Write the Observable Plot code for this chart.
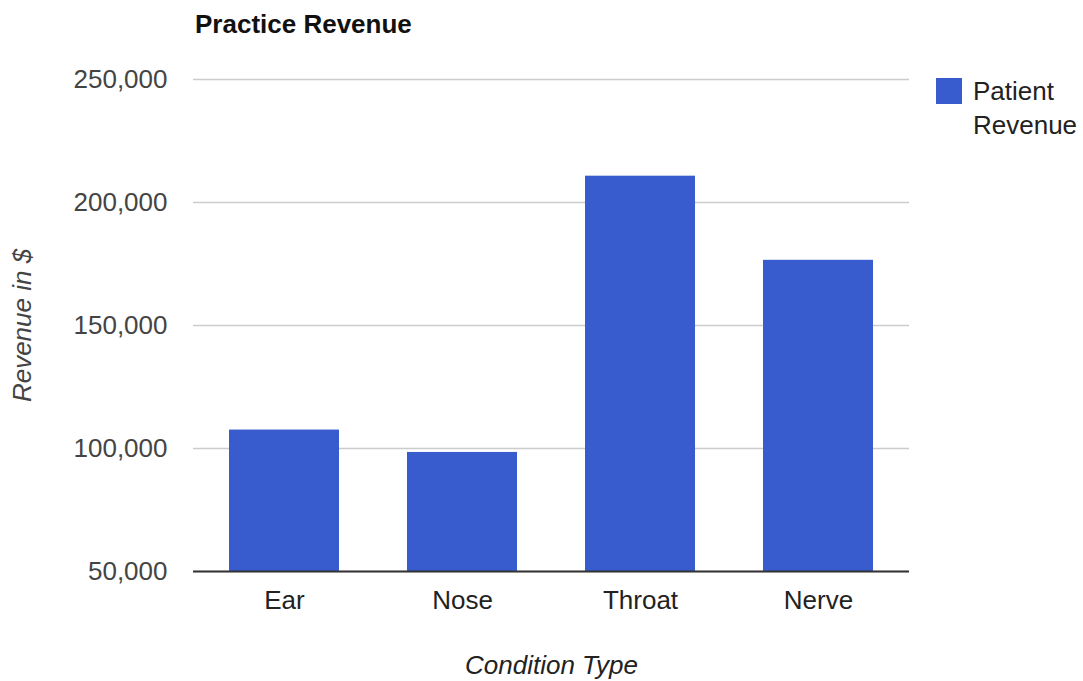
<!DOCTYPE html>
<html>
<head>
<meta charset="utf-8">
<script src="https://cdn.jsdelivr.net/npm/d3@7"></script>
<script src="https://cdn.jsdelivr.net/npm/@observablehq/plot@0.6"></script>
<style>
  html, body { margin: 0; padding: 0; background: #fff; }
  body { font-family: Arial, "Liberation Sans", sans-serif; }
  #wrap { position: relative; width: 1083px; height: 681px; overflow: hidden; }
  #title { position: absolute; left: 195px; top: 9px; font-size: 26px; font-weight: bold; color: #111; white-space: nowrap; }
  #legend { position: absolute; left: 936px; top: 78px; }
  #legend .sw { position: absolute; left: 0; top: 0; width: 26px; height: 26px; }
  #legend .lab { position: absolute; left: 37px; top: -4px; font-size: 26px; line-height: 34px; color: #222; white-space: nowrap; }
  #chart { position: absolute; left: 0; top: 0; }
  g[aria-label="x-axis label"] text, g[aria-label="y-axis label"] text { font-style: italic; }
</style>
</head>
<body>
<div id="wrap">
  <div id="chart"></div>
  <div id="title"></div>
  <div id="legend"><div class="sw"></div><div class="lab"></div></div>
</div>
<script>
const title = "Practice Revenue";
const categories = ["Ear", "Nose", "Throat", "Nerve"];
const revenue = [107500, 98400, 210700, 176500];
const seriesName = ["Patient", "Revenue"];
const yTicks = [50000, 100000, 150000, 200000, 250000];
const xLabel = "Condition Type";
const yLabel = "Revenue in $";
const barColor = "#385bce";

const data = categories.map((c, i) => ({category: c, value: revenue[i]}));

document.getElementById("title").textContent = title;
document.querySelector("#legend .sw").style.background = barColor;
document.querySelector("#legend .lab").innerHTML = seriesName.join("<br>");

const fmt = d3.format(",");

const chart = Plot.plot({
  width: 1083,
  height: 681,
  marginLeft: 193,
  marginRight: 174,
  marginTop: 79,
  marginBottom: 110,
  style: {fontFamily: "Arial, 'Liberation Sans', sans-serif", fontSize: "26px", color: "#444", background: "transparent"},
  x: {domain: categories, paddingInner: 0.384, paddingOuter: 0.196},
  y: {domain: [50000, 250000]},
  marks: [
    Plot.gridY(yTicks, {stroke: "#cccccc", strokeOpacity: 1, strokeWidth: 1.5}),
    Plot.barY(data, {x: "category", y: "value", fill: barColor, clip: true}),
    Plot.ruleY([yTicks[0]], {stroke: "#333", strokeWidth: 2}),
    Plot.axisY(yTicks, {tickSize: 0, tickPadding: 26, tickFormat: fmt, fill: "#444",
      label: yLabel, labelAnchor: "center", labelArrow: "none", labelOffset: 181}),
    Plot.axisX({tickSize: 0, tickPadding: 19, fill: "#222",
      label: xLabel, labelAnchor: "center", labelArrow: "none", labelOffset: 102})
  ]
});
document.getElementById("chart").appendChild(chart);
</script>
</body>
</html>
